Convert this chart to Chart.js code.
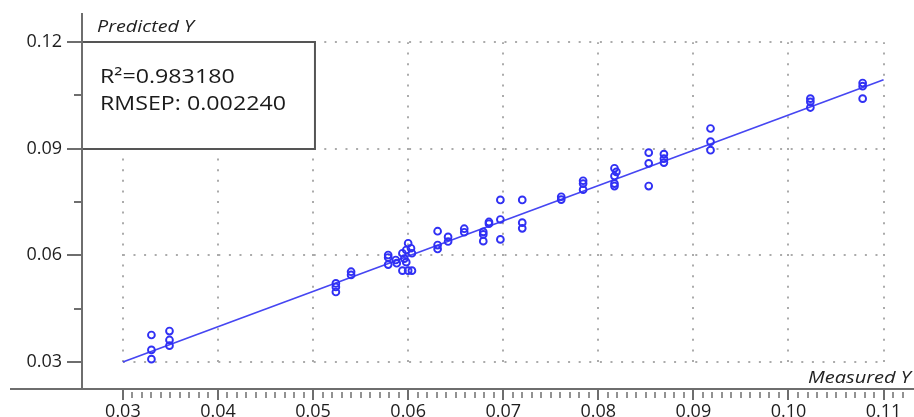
<!DOCTYPE html>
<html>
<head>
<meta charset="utf-8">
<script src="https://cdn.jsdelivr.net/npm/chart.js@4.4.0/dist/chart.umd.min.js"></script>
<style>
html,body{margin:0;padding:0;background:#fff;}
#wrap{width:914px;height:417px;position:relative;}
</style>
</head>
<body>
<div id="wrap"><canvas id="myChart"></canvas></div>
<script>
// measured vs predicted
var measured  = [0.0330,0.0330,0.0330, 0.0349,0.0349,0.0349,
                 0.0524,0.0524,0.0524, 0.0540,0.0540,
                 0.0579,0.0579,0.0579, 0.0587,0.0588,
                 0.0594,0.0598,0.0600,0.0603,0.0604,0.0596,0.0598,0.0594,0.0600,0.0604,
                 0.0631,0.0631,0.0631, 0.0642,0.0642, 0.0659,0.0659,
                 0.0679,0.0679,0.0679, 0.0685,0.0685,
                 0.0697,0.0697,0.0697, 0.0720,0.0720,0.0720,
                 0.0761,0.0761, 0.0784,0.0784,0.0784,
                 0.0817,0.0819,0.0817,0.0817,0.0817,
                 0.0853,0.0853,0.0853, 0.0869,0.0869,0.0869,
                 0.0918,0.0918,0.0918, 0.1023,0.1023,0.1023, 0.1078,0.1078,0.1078];
var predicted = [0.0376,0.0334,0.0308, 0.0387,0.0362,0.0346,
                 0.0521,0.0511,0.0497, 0.0554,0.0545,
                 0.0601,0.0594,0.0574, 0.0587,0.0578,
                 0.0606,0.0615,0.0634,0.0620,0.0606,0.0591,0.0581,0.0557,0.0557,0.0557,
                 0.0668,0.0629,0.0618, 0.0652,0.0639, 0.0675,0.0665,
                 0.0666,0.0659,0.0640, 0.0694,0.0689,
                 0.0756,0.0701,0.0645, 0.0756,0.0692,0.0676,
                 0.0765,0.0757, 0.0810,0.0802,0.0785,
                 0.0845,0.0835,0.0823,0.0802,0.0795,
                 0.0889,0.0859,0.0795, 0.0885,0.0872,0.0861,
                 0.0957,0.0920,0.0896, 0.1041,0.1032,0.1016, 0.1085,0.1076,0.1041];
// fitted line
var fitX = [0.03, 0.11];
var fitY = [0.0300, 0.1094];
var xTicks = [0.03,0.04,0.05,0.06,0.07,0.08,0.09,0.10,0.11];
var yTicks = [0.03,0.06,0.09,0.12];
var yMinor = [0.045,0.075,0.105];
var r2Text = 'R\u00b2=0.983180';
var rmsepText = 'RMSEP: 0.002240';

var pts = measured.map(function(m, i){ return {x: m, y: predicted[i]}; });
var fit = fitX.map(function(v, i){ return {x: v, y: fitY[i]}; });

function stretchText(ctx, txt, x, y, sx, align) {
  ctx.save();
  ctx.translate(x, y);
  ctx.scale(sx, 1);
  ctx.textAlign = align || 'left';
  ctx.fillText(txt, 0, 0);
  ctx.restore();
}

function noPad(s) {
  s.paddingTop = 0; s.paddingBottom = 0; s.paddingLeft = 0; s.paddingRight = 0;
}

var decor = {
  id: 'decor',
  beforeDatasetsDraw: function(chart) {
    var ctx = chart.ctx, xs = chart.scales.x, ys = chart.scales.y, ca = chart.chartArea;
    var x0 = xs.getPixelForValue(0.03), x1 = xs.getPixelForValue(0.11);
    var y0 = ys.getPixelForValue(0.03), y1 = ys.getPixelForValue(0.12);
    ctx.save();
    // dotted grid
    ctx.strokeStyle = '#ababab';
    ctx.lineWidth = 2;
    ctx.setLineDash([2, 8.6]);
    xTicks.forEach(function(v){
      var p = Math.round(xs.getPixelForValue(v));
      ctx.beginPath(); ctx.moveTo(p, y0); ctx.lineTo(p, y1); ctx.stroke();
    });
    yTicks.forEach(function(v){
      var p = Math.round(ys.getPixelForValue(v));
      ctx.beginPath(); ctx.moveTo(x0, p); ctx.lineTo(x1 + 2, p); ctx.stroke();
    });
    ctx.setLineDash([]);
    // stats box
    var bl = ca.left, br = xs.getPixelForValue(0.0502);
    var bt = Math.round(ys.getPixelForValue(0.12)), bb = Math.round(ys.getPixelForValue(0.09));
    ctx.fillStyle = '#fff';
    ctx.fillRect(bl, bt, br - bl, bb - bt);
    ctx.strokeStyle = '#555';
    ctx.lineWidth = 2;
    ctx.strokeRect(bl, bt, br - bl, bb - bt);
    ctx.fillStyle = '#1a1a1a';
    ctx.font = '19.5px "Open Sans"';
    ctx.textBaseline = 'alphabetic';
    var sx = 186 / ctx.measureText(rmsepText).width;
    stretchText(ctx, r2Text, 100, 83, sx);
    stretchText(ctx, rmsepText, 100, 110, sx);
    ctx.restore();
  },
  afterDraw: function(chart) {
    var ctx = chart.ctx, xs = chart.scales.x, ys = chart.scales.y, ca = chart.chartArea;
    ctx.save();
    ctx.strokeStyle = '#6e6e6e';
    ctx.lineWidth = 2;
    // y axis
    ctx.beginPath(); ctx.moveTo(ca.left, ca.top); ctx.lineTo(ca.left, ca.bottom); ctx.stroke();
    yTicks.forEach(function(v){
      var p = Math.round(ys.getPixelForValue(v));
      ctx.beginPath(); ctx.moveTo(ca.left - 15, p); ctx.lineTo(ca.left, p); ctx.stroke();
    });
    yMinor.forEach(function(v){
      var p = Math.round(ys.getPixelForValue(v));
      ctx.beginPath(); ctx.moveTo(ca.left - 8, p); ctx.lineTo(ca.left, p); ctx.stroke();
    });
    // x axis
    ctx.beginPath(); ctx.moveTo(10, ca.bottom); ctx.lineTo(chart.width, ca.bottom); ctx.stroke();
    for (var k = 30; k <= 112; k++) {
      var p = Math.round(xs.getPixelForValue(k / 1000));
      ctx.beginPath();
      if (k % 10 === 0) { ctx.lineWidth = 2; ctx.moveTo(p, ca.bottom); ctx.lineTo(p, ca.bottom + 11); }
      else { ctx.lineWidth = 1.5; ctx.moveTo(p, ca.bottom + 3); ctx.lineTo(p, ca.bottom + 9); }
      ctx.stroke();
    }
    // axis titles
    ctx.fillStyle = '#222';
    ctx.font = 'italic 15.5px "Open Sans"';
    var s1 = 97 / ctx.measureText('Predicted Y').width;
    stretchText(ctx, 'Predicted Y', 97, 32, s1);
    var s2 = 103 / ctx.measureText('Measured Y').width;
    stretchText(ctx, 'Measured Y', 911, 383, s2, 'right');
    ctx.restore();
  }
};

var ctx = document.getElementById('myChart');
var myChart = new Chart(ctx, {
  type: 'scatter',
  data: {
    datasets: [
      {
        data: pts,
        pointStyle: 'circle',
        pointRadius: 3.4,
        borderWidth: 1.9,
        borderColor: '#3030f4',
        backgroundColor: 'rgba(255,255,255,0)'
      },
      {
        type: 'line',
        data: fit,
        borderColor: '#4646f2',
        borderWidth: 1.7,
        pointRadius: 0,
        fill: false
      }
    ]
  },
  options: {
    responsive: true,
    maintainAspectRatio: false,
    animation: false,
    layout: {autoPadding: false, padding: {top: 13, right: 0, left: 0, bottom: 0}},
    plugins: {legend: {display: false}, tooltip: {enabled: false}},
    scales: {
      x: {
        type: 'linear', min: 0.0257, max: 0.1132,
        grid: {display: false, drawTicks: false},
        border: {display: false},
        afterBuildTicks: function(s){ s.ticks = xTicks.map(function(v){ return {value: v}; }); },
        afterFit: function(s){ s.height = 28; noPad(s); },
        ticks: {padding: 12, autoSkip: false, maxRotation: 0, color: '#1e1e1e',
                font: {family: 'Open Sans', size: 18},
                callback: function(v){ return Number(v).toFixed(2); }}
      },
      y: {
        type: 'linear', min: 0.0224, max: 0.1282,
        grid: {display: false, drawTicks: false},
        border: {display: false},
        afterBuildTicks: function(s){ s.ticks = yTicks.map(function(v){ return {value: v}; }); },
        afterFit: function(s){ s.width = 82; noPad(s); },
        ticks: {padding: 20, autoSkip: false, color: '#1e1e1e',
                font: {family: 'Open Sans', size: 18},
                callback: function(v){ return Number(v).toFixed(2); }}
      }
    }
  },
  plugins: [decor]
});
</script>
</body>
</html>
